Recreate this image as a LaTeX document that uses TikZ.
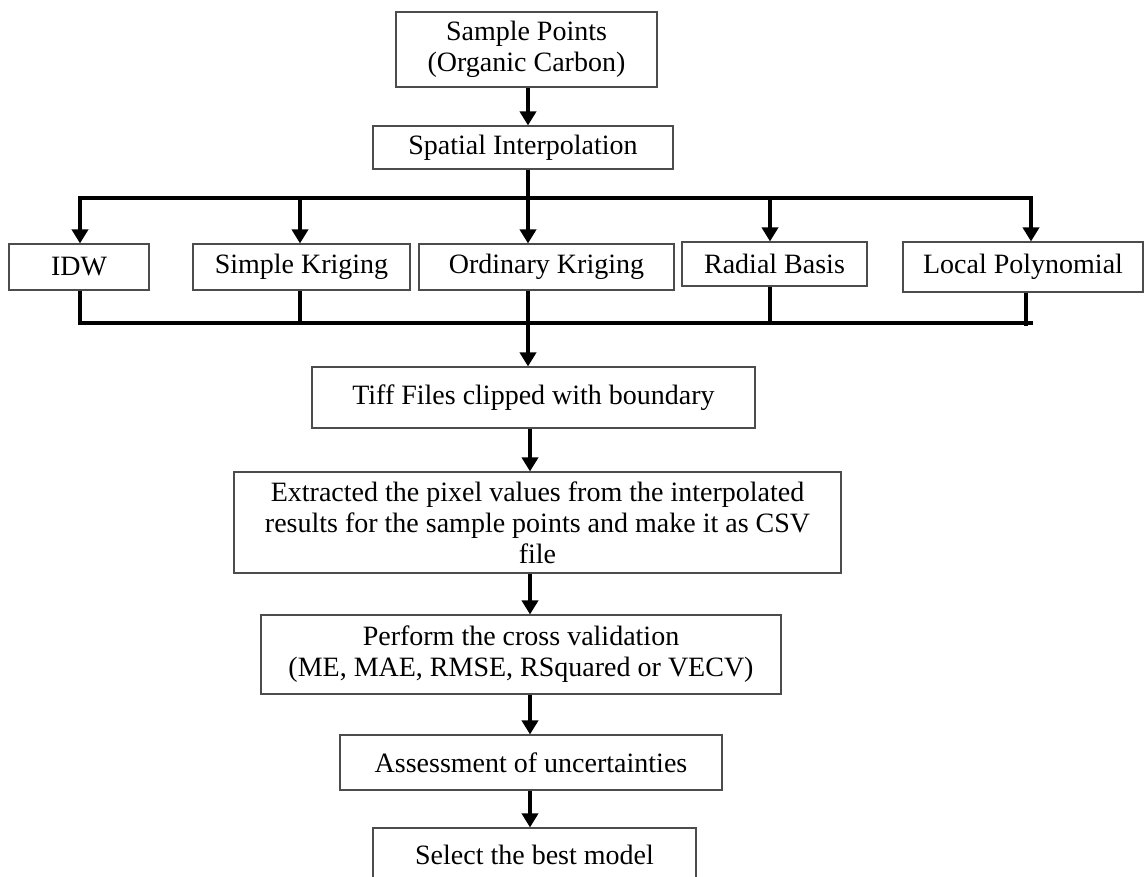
\documentclass[tikz,border=0pt]{standalone}
\usepackage{fontspec}
\setmainfont{Liberation Serif}
\usetikzlibrary{arrows.meta}
\begin{document}
\begin{tikzpicture}[x=1pt,y=-1pt,
  box/.style={draw=black!70, line width=1.1pt, align=center, inner sep=0pt,
    font=\fontsize{28}{31}\selectfont},
  conn/.style={line width=4.5pt, line cap=butt, line join=miter},
  arr/.style={conn, -{Triangle[width=16pt,length=14pt]}},
]
\useasboundingbox (0,0) rectangle (1145,876);
% boxes
\node[box, minimum width=261, minimum height=75] (sp) at (526.5,49.5) {Sample Points\\(Organic Carbon)};
\node[box, minimum width=300, minimum height=43] (si) at (523,147.5) {Spatial Interpolation};
\node[box, minimum width=140, minimum height=46] (idw) at (79,267) {IDW};
\node[box, minimum width=217, minimum height=46] (sk) at (301.5,267) {Simple Kriging};
\node[box, minimum width=255, minimum height=46] (ok) at (546.5,267) {Ordinary Kriging};
\node[box, minimum width=185, minimum height=44] (rb) at (774.5,264) {Radial Basis};
\node[box, minimum width=240, minimum height=50] (lp) at (1023,267) {Local Polynomial};
\node[box, minimum width=443, minimum height=61] (tiff) at (533.5,397.5) {Tiff Files clipped with boundary};
\node[box, minimum width=607, minimum height=101] (ext) at (537.5,522.5) {Extracted the pixel values from the interpolated\\results for the sample points and make it as CSV\\file};
\node[box, minimum width=520, minimum height=79] (perf) at (521,654.5) {Perform the cross validation\\(ME, MAE, RMSE, RSquared or VECV)};
\node[box, minimum width=382, minimum height=55] (ass) at (531,762.5) {Assessment of uncertainties};
\node[box, minimum width=323, minimum height=54] (sel) at (534.5,855) {Select the best model};
% coordinates
\coordinate (mx) at (528,0);
\coordinate (my) at (530,0);
\coordinate (tL) at (80,198);
\coordinate (tS) at (300,198);
\coordinate (tO) at (528,198);
\coordinate (tR) at (770,198);
\coordinate (tP) at (1031,198);
\coordinate (tE) at (1033,198);
\coordinate (bL) at (80,323);
\coordinate (bS) at (300,323);
\coordinate (bO) at (528,323);
\coordinate (bR) at (770,321);
\coordinate (bP) at (1026,326);
\coordinate (bE) at (1033,323);
% connectors
\draw[arr] (sp.south -| mx) -- (si.north -| mx);
\draw[conn] (si.south -| mx) -- (tO);
\draw[arr] (tE) -- (tL) -- (idw.north -| tL);
\draw[arr] (tS) -- (sk.north -| tS);
\draw[arr] (tO) -- (ok.north -| tO);
\draw[arr] (tR) -- (rb.north -| tR);
\draw[arr] (tP) -- (lp.north -| tP);
\draw[conn] (idw.south -| bL) -- (bL) -- (bE);
\draw[conn] (sk.south -| bS) -- (bS);
\draw[conn] (rb.south -| bR) -- (bR);
\draw[conn] (lp.south -| bP) -- (bP);
\draw[arr] (ok.south -| bO) -- (tiff.north -| bO);
\draw[arr] (tiff.south -| my) -- (ext.north -| my);
\draw[arr] (ext.south -| my) -- (perf.north -| my);
\draw[arr] (perf.south -| my) -- (ass.north -| my);
\draw[arr] (ass.south -| my) -- (sel.north -| my);
\end{tikzpicture}
\end{document}
